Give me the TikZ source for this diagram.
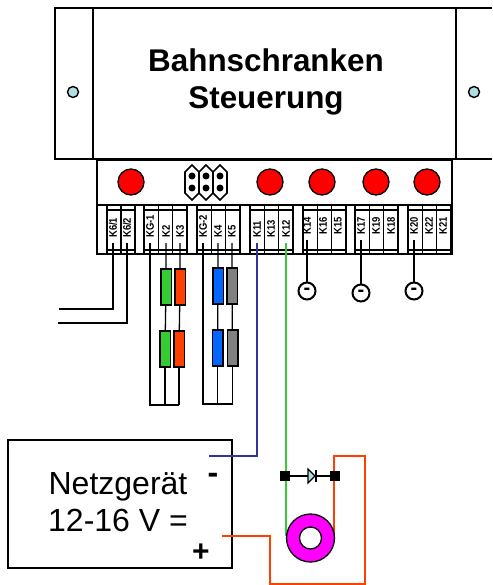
\documentclass[tikz,border=0pt]{standalone}
\usepackage{fontspec}
\setmainfont{Liberation Sans}
\newfontfamily\termfont[FakeStretch=0.86]{Liberation Sans}
\usetikzlibrary{positioning}

\tikzset{
  outline/.style={draw,line width=1.4pt},
  lamp/.style={circle,draw,line width=1.3pt,fill=red,minimum size=26pt,inner sep=0pt},
  screw/.style={circle,draw,line width=1.4pt,fill=screwblue,minimum size=11pt,inner sep=0pt},
  pin/.style={circle,fill=black,minimum size=7pt,inner sep=0pt},
  termlabel/.style={rotate=90,anchor=west,inner xsep=5pt,inner ysep=0pt,font=\termfont\bfseries\fontsize{11}{11}\selectfont},
  strip/.style={line width=1.6pt},
  wire/.style={line width=1.3pt},
  thickwire/.style={line width=2.6pt},
  resistor/.style={rectangle,draw,line width=1.5pt,minimum width=10.5pt,minimum height=36pt,inner sep=0pt},
  ground/.style={circle,draw,line width=2pt,fill=white,minimum size=17pt,inner sep=0pt,font=\bfseries\fontsize{20}{20}\selectfont},
  junction/.style={rectangle,fill=black,minimum size=10pt,inner sep=0pt},
  bigtext/.style={align=center,font=\fontsize{32}{37}\selectfont},
}
\definecolor{screwblue}{RGB}{176,221,224}
\definecolor{wireblue}{RGB}{51,51,153}
\definecolor{wiregreen}{RGB}{51,204,51}
\definecolor{wirered}{RGB}{255,64,0}
\definecolor{coilpink}{RGB}{255,0,255}
\definecolor{resblue}{RGB}{0,102,255}
\definecolor{resgray}{RGB}{128,128,128}

\begin{document}
\begin{tikzpicture}[x=1pt,y=-1pt]
  \useasboundingbox (0,0) rectangle (492,585);

  % housing
  \draw[outline] (55,8) rectangle (93,159);
  \draw[outline] (93,8) rectangle (456,159);
  \draw[outline] (492,8) -- (456,8) -- (456,159) -- (492,159);
  \node[screw] (screwL) at (73,92) {};
  \node[screw] (screwR) at (474,92) {};
  \node[bigtext,font=\bfseries\fontsize{31.4}{37}\selectfont] (title) at (266,81.5) {Bahnschranken\\Steuerung};

  % panel
  \draw[outline] (97,160) rectangle (452,254);
  \draw[strip] (97,205) -- (452,205);
  \foreach \lx in {131,270,322,376,427}
    \node[lamp] (lamp\lx) at (\lx,182) {};

  % jumper
  \foreach \jx in {192,206,220} {
    \draw[strip,fill=white] (\jx-7,172) -- (\jx,165) -- (\jx+7,172) -- (\jx+7,193) -- (\jx,200) -- (\jx-7,193) -- cycle;
    \node[pin] (pinA\jx) at (\jx,176) {};
    \node[pin] (pinB\jx) at (\jx,188) {};
  }

  % terminal blocks
  \draw[strip] (107,205) -- (107,254) (121,205) -- (121,254) (135,205) -- (135,254);
  \draw[strip] (107,210) -- (135,210) (107,250) -- (135,250);
  \foreach \gx in {144,197,250,303,355,408} {
    \draw[strip] (\gx,205) -- (\gx,254) (\gx+14.3,205) -- (\gx+14.3,254) (\gx+28.6,205) -- (\gx+28.6,254) (\gx+43,205) -- (\gx+43,254);
    \draw[strip] (\gx,210) -- (\gx+43,210) (\gx,250) -- (\gx+43,250);
  }

  \node[termlabel] (K61) at (113,243) {K6/1};
  \node[termlabel] (K62) at (127,243) {K6/2};
  \node[termlabel] (KG1) at (150,243) {KG-1};
  \node[termlabel] (K2) at (166,243) {K2};
  \node[termlabel] (K3) at (180,243) {K3};
  \node[termlabel] (KG2) at (203,243) {KG-2};
  \node[termlabel] (K4) at (218,243) {K4};
  \node[termlabel] (K5) at (232,243) {K5};
  \node[termlabel] (K11) at (257,243) {K11};
  \node[termlabel] (K13) at (271,243) {K13};
  \node[termlabel] (K12) at (286,243) {K12};
  \node[termlabel] (K14) at (307,240) {K14};
  \node[termlabel] (K16) at (323,240) {K16};
  \node[termlabel] (K15) at (338,240) {K15};
  \node[termlabel] (K17) at (361,240) {K17};
  \node[termlabel] (K19) at (376,240) {K19};
  \node[termlabel] (K18) at (391,240) {K18};
  \node[termlabel] (K20) at (414,240) {K20};
  \node[termlabel] (K22) at (429,240) {K22};
  \node[termlabel] (K21) at (443,240) {K21};

  % signal wires
  \coordinate (endA) at (59,309);
  \coordinate (endB) at (58,323);
  \draw[thickwire] (K61.west) |- (endA);
  \draw[thickwire] (K62.west) |- (endB);

  % resistors
  \node[resistor,fill=wiregreen] (greenA) at (166,287) {};
  \node[resistor,fill=wirered] (redA) at (180,287) {};
  \node[resistor,fill=wiregreen] (greenB) at (165,349) {};
  \node[resistor,fill=wirered] (redB) at (179,349) {};
  \node[resistor,fill=resblue] (blueA) at (218,286) {};
  \node[resistor,fill=resgray] (grayA) at (232,286) {};
  \node[resistor,fill=resblue] (blueB) at (217.5,348) {};
  \node[resistor,fill=resgray] (grayB) at (232.5,348) {};

  \coordinate (baseA) at (150,405);
  \coordinate (baseB) at (203,404);
  \draw[wire] (K2.west) -- (greenA) -- (greenB);
  \draw[wire] (K3.west) -- (redA) -- (redB);
  \draw[wire] (K4.west) -- (blueA) -- (blueB);
  \draw[wire] (K5.west) -- (grayA) -- (grayB);
  \draw[wire] (greenB.south) -- (greenB.south |- baseA);
  \draw[wire] (redB.south) -- (redB.south |- baseA);
  \draw[wire] (blueB.south) -- (blueB.south |- baseB);
  \draw[wire] (grayB.south) -- (grayB.south |- baseB);
  \draw[wire] (KG1.west) -- (baseA) -- (redB.south |- baseA);
  \draw[wire] (KG2.west) -- (baseB) -- (grayB.south |- baseB);

  % ground symbols
  \node[ground] (gndA) at (307,291) {-};
  \node[ground] (gndB) at (361,293) {-};
  \node[ground] (gndC) at (414,291) {-};
  \draw[thickwire] (K14.west) -- (gndA);
  \draw[thickwire] (K17.west) -- (gndB);
  \draw[thickwire] (K20.west) -- (gndC);

  % power supply
  \draw[outline] (8,440) rectangle (232,568);
  \node[bigtext] (supply) at (118,502) {Netzgerät\\12-16 V =};
  \node[font=\bfseries\fontsize{32}{32}\selectfont] (minus) at (213,478) {-};
  \node[font=\bfseries\fontsize{30}{30}\selectfont] (plus) at (201,553) {+};

  % relay
  \node[junction] (jL) at (285,476) {};
  \node[junction] (jR) at (335,476) {};
  \coordinate (blueEnd) at (209,456);
  \coordinate (coilL) at (286,536);
  \coordinate (coilR) at (334,536);
  \draw[line width=1.6pt,color=wireblue] (K11.west) |- (blueEnd);
  \draw[line width=1.8pt,color=wiregreen] (K12.west) -- (coilL);
  \draw[line width=1.2pt] (jL) -- (jR);
  \draw[line width=1.1pt,fill=screwblue] (308,469) -- (315,476) -- (308,483) -- cycle;
  \draw[line width=1.6pt] (316,470) -- (316,482);
  \coordinate (redA1) at (334,456);
  \coordinate (redA2) at (365,456);
  \coordinate (redA3) at (365,584);
  \coordinate (redA4) at (270,584);
  \coordinate (redA5) at (270,536);
  \coordinate (redA6) at (222,536);
  \draw[line width=1.6pt,color=wirered] (coilR) -- (redA1) -- (redA2) -- (redA3) -- (redA4) -- (redA5) -- (redA6);
  \node[circle,draw,line width=1.3pt,fill=coilpink,minimum size=48pt,inner sep=0pt] (coil) at (310.5,538) {};
  \node[circle,draw,line width=1.3pt,fill=white,minimum size=22pt,inner sep=0pt] (core) at (310.5,538) {};
  \node[junction] (jLtop) at (jL) {};
  \node[junction] (jRtop) at (jR) {};
\end{tikzpicture}
\end{document}
